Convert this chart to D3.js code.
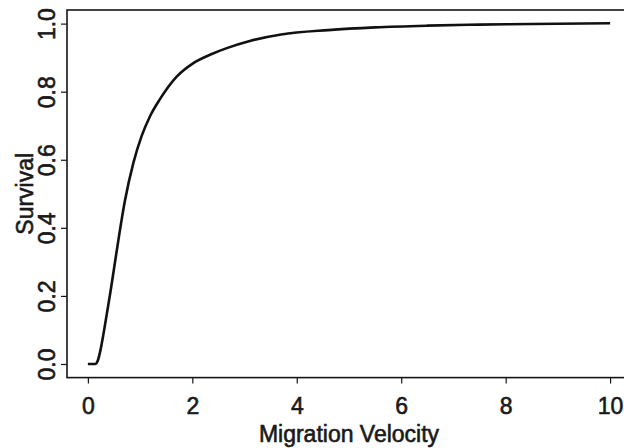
<!DOCTYPE html>
<html>
<head>
<meta charset="utf-8">
<script src="https://cdn.jsdelivr.net/npm/d3@7"></script>
<style>
  html, body { margin: 0; padding: 0; background: #fff; }
  svg { display: block; }
  text { font-family: "Liberation Sans", Arial, sans-serif; fill: #1a1a1a; }
</style>
</head>
<body>
<svg id="chart" width="624" height="448"></svg>
<script>
const velocity = [0, 0.08, 0.14, 0.19, 0.24, 0.3, 0.36, 0.43, 0.5, 0.58, 0.71, 0.87, 1.03, 1.19, 1.38, 1.7, 2.02, 2.36, 2.66, 3.1, 3.7, 4.6, 5.5, 6.5, 7.5, 8.5, 10];
const survival = [0, 0, 0, 0.01, 0.04, 0.09, 0.145, 0.21, 0.28, 0.36, 0.48, 0.59, 0.67, 0.728, 0.778, 0.844, 0.884, 0.91, 0.928, 0.949, 0.968, 0.981, 0.989, 0.994, 0.997, 0.999, 1.001];
const xTicks = [0, 2, 4, 6, 8, 10];
const yTicks = [0.0, 0.2, 0.4, 0.6, 0.8, 1.0];
const xTitle = "Migration Velocity";
const yTitle = "Survival";

const svg = d3.select("#chart");
const x = d3.scaleLinear().domain([-0.4, 10.4]).range([67, 631]);
const y = d3.scaleLinear().domain([-0.04, 1.04]).range([377.6, 10]);

const ink = "#151515";
const txt = "#1a1a1a";
const font = "Liberation Sans, Arial, sans-serif";
const fs = 23;

function styleText(sel) {
  sel.attr("font-size", fs).attr("font-family", font)
    .attr("fill", txt).attr("stroke", txt).attr("stroke-width", 0.6);
}

// box
svg.append("rect")
  .attr("x", x(-0.4)).attr("y", y(1.04))
  .attr("width", x(10.4) - x(-0.4)).attr("height", y(-0.04) - y(1.04))
  .attr("fill", "none").attr("stroke", ink).attr("stroke-width", 1.6);

// x axis
const xAxis = d3.axisBottom(x).tickValues(xTicks).tickFormat(d3.format("d")).tickSize(6).tickPadding(14);
const gx = svg.append("g").attr("transform", `translate(0,${y(-0.04)})`).call(xAxis);
gx.select(".domain").remove();
gx.selectAll("line").attr("stroke", ink).attr("stroke-width", 1.2);
styleText(gx.selectAll("text"));

// y axis
const yAxis = d3.axisLeft(y).tickValues(yTicks).tickFormat(d3.format(".1f")).tickSize(6).tickPadding(0);
const gy = svg.append("g").attr("transform", `translate(${x(-0.4)},0)`).call(yAxis);
gy.select(".domain").remove();
gy.selectAll("line").attr("stroke", ink).attr("stroke-width", 1.2);
styleText(gy.selectAll("text")
  .attr("x", null).attr("dy", null)
  .attr("text-anchor", "middle")
  .attr("transform", "translate(-12,0) rotate(-90)"));

// titles
styleText(svg.append("text")
  .attr("x", (x(-0.4) + x(10.4)) / 2).attr("y", 442)
  .attr("text-anchor", "middle")
  .text(xTitle));
styleText(svg.append("text")
  .attr("transform", `translate(33,${(y(-0.04) + y(1.04)) / 2}) rotate(-90)`)
  .attr("text-anchor", "middle")
  .text(yTitle));

// curve
const data = velocity.map((v, i) => ({ v, s: survival[i] }));
const line = d3.line().x(d => x(d.v)).y(d => y(d.s)).curve(d3.curveMonotoneX);
svg.append("path").datum(data)
  .attr("d", line)
  .attr("fill", "none").attr("stroke", "#111").attr("stroke-width", 2.6)
  .attr("stroke-linejoin", "round").attr("stroke-linecap", "butt");
</script>
</body>
</html>
